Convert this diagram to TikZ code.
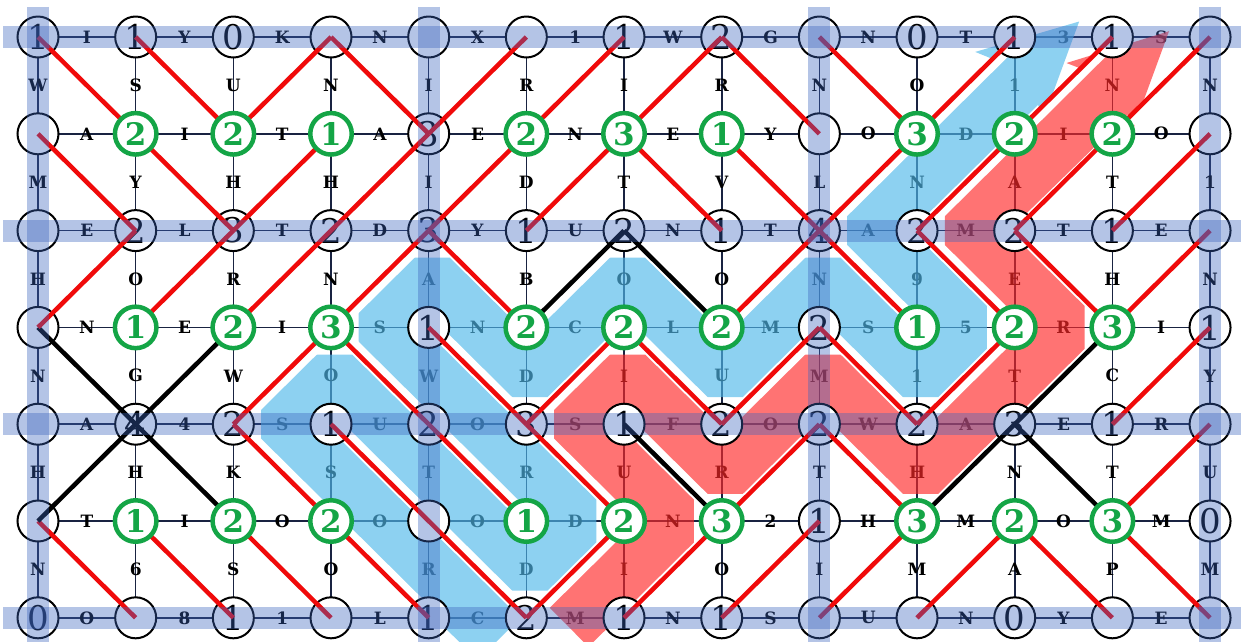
\documentclass[tikz,border=0pt]{standalone}
\usepackage{fontspec}
\newfontfamily\lfont{DejaVu Serif}
\usetikzlibrary{arrows.meta}
\definecolor{gridnavy}{RGB}{25,35,65}
\definecolor{bandblue}{RGB}{60,100,190}
\definecolor{arrblue}{RGB}{80,185,235}
\definecolor{arrred}{RGB}{255,40,40}
\definecolor{ggreen}{RGB}{20,165,70}
\definecolor{dred}{RGB}{240,10,10}
\tikzset{
  gridline/.style={draw=gridnavy, line width=1.6pt},
  lett/.style={font=\lfont\bfseries\fontsize{17}{17}\selectfont, inner sep=0pt, text=black},
  bcirc/.style={circle, draw=black, line width=2pt, fill=white, minimum size=41pt, inner sep=0pt, font=\lfont\fontsize{34}{34}\selectfont},
  gcirc/.style={circle, draw=ggreen, line width=4.5pt, fill=white, minimum size=41.5pt, inner sep=0pt, text=ggreen, font=\lfont\bfseries\fontsize{31}{31}\selectfont},
  diag/.style={draw=#1, line width=4.5pt},
  stripe/.style={draw=white, line width=10pt},
  band/.style={draw=bandblue, line width=22pt, opacity=0.38},
  shaft/.style={draw=#1, line width=60pt, line join=bevel, line cap=butt},
  head/.style={fill=#1},
}
\def\Blist{0/0/dred,1/0/dred,3/0/dred,7/0/dred,8/0/dred,
0/1/dred,1/1/dred,6/1/dred,7/1/dred,
4/2/dred,6/2/black,8/2/dred,9/2/dred,10/2/dred,
0/3/black,3/3/dred,4/3/dred,6/3/dred,8/3/dred,
1/4/black,2/4/dred,3/4/dred,4/4/dred,5/4/dred,6/4/black,8/4/dred,10/4/black,
0/5/dred,1/5/dred,2/5/dred,3/5/dred,4/5/dred,10/5/dred,11/5/dred}
\def\Flist{2/0/dred,4/0/dred,5/0/dred,6/0/dred,9/0/dred,10/0/dred,11/0/dred,
2/1/dred,3/1/dred,4/1/dred,5/1/dred,8/1/dred,9/1/dred,10/1/dred,11/1/dred,
0/2/dred,1/2/dred,2/2/dred,3/2/dred,5/2/black,7/2/dred,11/2/dred,
1/3/black,2/3/dred,5/3/dred,7/3/dred,9/3/dred,10/3/black,11/3/dred,
0/4/black,7/4/dred,9/4/black,11/4/dred,
5/5/dred,6/5/dred,7/5/dred,8/5/dred,9/5/dred}
\begin{document}
\begin{tikzpicture}[x=1pt,y=-1pt]
\path[use as bounding box, fill=white] (0,0) rectangle (1241,641);
\begin{scope}[shift={(38pt,-37pt)}, x=97.67pt, y=-96.8pt]
% vertex coordinates
\foreach \c in {0,...,12}{\foreach \r in {0,...,6}{\coordinate (p-\c-\r) at (\c,\r);}}
% thin grid
\foreach \r in {0,...,6}{\draw[gridline] (p-0-\r) -- (p-12-\r);}
\foreach \c in {0,...,12}{\draw[gridline] (p-\c-0) -- (p-\c-6);}
% letters on horizontal edges
\foreach \r/\lst in {0/{I,Y,K,N,X,1,W,G,N,T,3,S},1/{A,I,T,A,E,N,E,Y,O,D,I,O},2/{E,L,T,D,Y,U,N,T,A,M,T,E},3/{N,E,I,S,N,C,L,M,S,5,R,I},4/{A,4,S,U,O,S,F,O,W,A,E,R},5/{T,I,O,O,O,D,N,2,H,M,O,M},6/{O,8,1,L,C,M,N,S,U,N,Y,E}}{
  \foreach \t [count=\i from 0] in \lst {\node[lett] (h-\i-\r) at (\i+0.5,\r) {\t};}
}
% letters on vertical edges
\foreach \r/\lst in {0/{W,S,U,N,I,R,I,R,N,O,1,N,N},1/{M,Y,H,H,I,D,T,V,L,N,A,T,1},2/{H,O,R,N,A,B,O,O,N,9,E,H,N},3/{N,G,W,O,W,D,I,U,M,1,T,C,Y},4/{H,H,K,S,T,R,U,R,T,H,N,T,U},5/{N,6,S,O,R,D,I,O,I,M,A,P,M}}{
  \foreach \t [count=\i from 0] in \lst {\node[lett] (e-\i-\r) at (\i,\r+0.5) {\t};}
}
% big arrows (each one a transparency group: shaft + head)
\coordinate (bt) at (10.66,-0.16);
\path (bt) ++(225:95pt) coordinate (bb);
\path (bb) ++(45:22pt) coordinate (bn);
\coordinate (rt) at (11.58,-0.06);
\path (rt) ++(225:95pt) coordinate (rb);
\path (rb) ++(45:22pt) coordinate (rn);
\begin{scope}[transparency group, opacity=0.65]
\draw[shaft=arrblue] (4.72,6.22) -- (2.5,4) -- (3,3.5) -- (5,5.5) -- (5.5,5) -- (3.5,3) -- (4,2.5) -- (5,3.5) -- (6,2.5) -- (7,3.5) -- (8,2.5) -- (9,3.5) -- (9.5,3) -- (8.5,2) -- ([shift={(45:30pt)}]bb);
\fill[head=arrblue] (bt) -- ([shift={(135:52pt)}]bb) -- (bn) -- ([shift={(315:44pt)}]bb) -- cycle;
\end{scope}
\begin{scope}[transparency group, opacity=0.65]
\draw[shaft=arrred] (5.42,6.08) -- (6.5,5) -- (5.5,4) -- (6,3.5) -- (7,4.5) -- (8,3.5) -- (9,4.5) -- (10.5,3) -- (9.5,2) -- ([shift={(45:30pt)}]rb);
\fill[head=arrred] (rt) -- ([shift={(135:50pt)}]rb) -- (rn) -- ([shift={(315:44pt)}]rb) -- cycle;
\end{scope}
% white stripes beside diagonals
\foreach \c/\r/\col in \Blist {\pgfmathtruncatemacro{\cn}{\c+1}\pgfmathtruncatemacro{\rn}{\r+1}
  \draw[stripe] ([xshift=6pt]p-\c-\r) -- ([xshift=6pt]p-\cn-\rn);}
\foreach \c/\r/\col in \Flist {\pgfmathtruncatemacro{\cn}{\c+1}\pgfmathtruncatemacro{\rn}{\r+1}
  \draw[stripe] ([xshift=6pt]p-\cn-\r) -- ([xshift=6pt]p-\c-\rn);}
% black circles
\foreach \c/\r/\n in {0/0/1,1/0/1,2/0/0,3/0/{},4/0/{},5/0/{},6/0/1,7/0/2,8/0/{},9/0/0,10/0/1,11/0/1,12/0/{},
0/1/{},4/1/3,8/1/{},12/1/{},
0/2/{},1/2/2,2/2/3,3/2/2,4/2/3,5/2/1,6/2/2,7/2/1,8/2/4,9/2/2,10/2/2,11/2/1,12/2/{},
0/3/{},4/3/1,8/3/2,12/3/1,
0/4/{},1/4/4,2/4/2,3/4/1,4/4/2,5/4/3,6/4/1,7/4/2,8/4/2,9/4/2,10/4/3,11/4/1,12/4/{},
0/5/{},4/5/{},8/5/1,12/5/0,
0/6/0,1/6/{},2/6/1,3/6/{},4/6/1,5/6/2,6/6/1,7/6/1,8/6/{},9/6/{},10/6/0,11/6/{},12/6/{}}
  {\node[bcirc] (v-\c-\r) at (p-\c-\r) {\n};}
% diagonals
\foreach \c/\r/\col in \Blist {\pgfmathtruncatemacro{\cn}{\c+1}\pgfmathtruncatemacro{\rn}{\r+1}
  \draw[diag=\col] (p-\c-\r) -- (p-\cn-\rn);}
\foreach \c/\r/\col in \Flist {\pgfmathtruncatemacro{\cn}{\c+1}\pgfmathtruncatemacro{\rn}{\r+1}
  \draw[diag=\col] (p-\cn-\r) -- (p-\c-\rn);}
% green circles
\foreach \c/\r/\n in {1/1/2,2/1/2,3/1/1,5/1/2,6/1/3,7/1/1,9/1/3,10/1/2,11/1/2,
1/3/1,2/3/2,3/3/3,5/3/2,6/3/2,7/3/2,9/3/1,10/3/2,11/3/3,
1/5/1,2/5/2,3/5/2,5/5/1,6/5/2,7/5/3,9/5/3,10/5/2,11/5/3}
  {\node[gcirc] (v-\c-\r) at (p-\c-\r) {\n};}
% block bands
\foreach \r in {0,2,4,6}{\draw[band] (-0.358,\r) -- (12.33,\r);}
\foreach \c in {0,4,8,12}{\draw[band] (\c,-0.31) -- (\c,6.3);}
\end{scope}
\end{tikzpicture}
\end{document}
